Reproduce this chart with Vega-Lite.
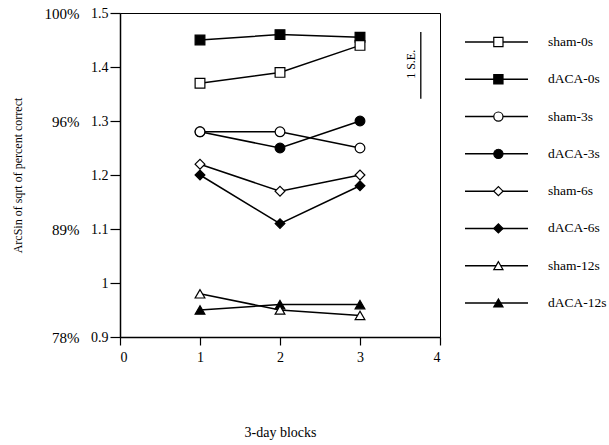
{
  "$schema": "https://vega.github.io/schema/vega-lite/v6.json",
  "padding": {"left": 10, "top": 5, "right": 5, "bottom": 5},
  "background": "white",
  "config": {
    "font": "Liberation Serif",
    "view": {"stroke": "black", "strokeWidth": 1},
    "axis": {
      "labelFont": "Liberation Serif", "titleFont": "Liberation Serif",
      "labelFontSize": 14, "titleFontSize": 12, "titleFontWeight": "normal",
      "labelColor": "black", "titleColor": "black",
      "domainColor": "black", "tickColor": "black",
      "grid": false, "domainWidth": 1.5, "tickWidth": 1.2
    },
    "text": {"font": "Liberation Serif", "color": "black"}
  },
  "datasets": {
    "scores": [
      {"series": "dACA-0s", "group": "dACA", "delay": "0s", "block": 1, "value": 1.45},
      {"series": "dACA-0s", "group": "dACA", "delay": "0s", "block": 2, "value": 1.46},
      {"series": "dACA-0s", "group": "dACA", "delay": "0s", "block": 3, "value": 1.455},
      {"series": "sham-0s", "group": "sham", "delay": "0s", "block": 1, "value": 1.37},
      {"series": "sham-0s", "group": "sham", "delay": "0s", "block": 2, "value": 1.39},
      {"series": "sham-0s", "group": "sham", "delay": "0s", "block": 3, "value": 1.44},
      {"series": "dACA-3s", "group": "dACA", "delay": "3s", "block": 1, "value": 1.28},
      {"series": "dACA-3s", "group": "dACA", "delay": "3s", "block": 2, "value": 1.25},
      {"series": "dACA-3s", "group": "dACA", "delay": "3s", "block": 3, "value": 1.30},
      {"series": "sham-3s", "group": "sham", "delay": "3s", "block": 1, "value": 1.28},
      {"series": "sham-3s", "group": "sham", "delay": "3s", "block": 2, "value": 1.28},
      {"series": "sham-3s", "group": "sham", "delay": "3s", "block": 3, "value": 1.25},
      {"series": "dACA-6s", "group": "dACA", "delay": "6s", "block": 1, "value": 1.20},
      {"series": "dACA-6s", "group": "dACA", "delay": "6s", "block": 2, "value": 1.11},
      {"series": "dACA-6s", "group": "dACA", "delay": "6s", "block": 3, "value": 1.18},
      {"series": "sham-6s", "group": "sham", "delay": "6s", "block": 1, "value": 1.22},
      {"series": "sham-6s", "group": "sham", "delay": "6s", "block": 2, "value": 1.17},
      {"series": "sham-6s", "group": "sham", "delay": "6s", "block": 3, "value": 1.20},
      {"series": "dACA-12s", "group": "dACA", "delay": "12s", "block": 1, "value": 0.95},
      {"series": "dACA-12s", "group": "dACA", "delay": "12s", "block": 2, "value": 0.96},
      {"series": "dACA-12s", "group": "dACA", "delay": "12s", "block": 3, "value": 0.96},
      {"series": "sham-12s", "group": "sham", "delay": "12s", "block": 1, "value": 0.98},
      {"series": "sham-12s", "group": "sham", "delay": "12s", "block": 2, "value": 0.95},
      {"series": "sham-12s", "group": "sham", "delay": "12s", "block": 3, "value": 0.94}
    ]
  },
  "spacing": 22,
  "hconcat": [
    {
      "width": 320,
      "height": 324,
      "data": {"name": "scores"},
      "layer": [
        {
          "mark": {"type": "line", "color": "black", "strokeWidth": 1.5},
          "encoding": {
            "x": {"field": "block", "type": "quantitative", "scale": {"domain": [0, 4]},
                  "axis": {"values": [0, 1, 2, 3, 4], "format": "d", "tickSize": 8, "labelPadding": 5, "title": "3-day blocks", "titleFontSize": 14, "titlePadding": 61}},
            "y": {"field": "value", "type": "quantitative", "scale": {"domain": [0.9, 1.5], "zero": false},
                  "axis": {"orient": "left", "values": [0.9, 1, 1.1, 1.2, 1.3, 1.4, 1.5], "format": ".1~f", "tickSize": 10, "labelPadding": 2, "title": null}},
            "detail": {"field": "series"}
          }
        },
        {
          "mark": {"type": "point", "filled": true, "stroke": "black", "strokeWidth": 1.2, "size": 95, "opacity": 1},
          "encoding": {
            "x": {"field": "block", "type": "quantitative", "axis": null},
            "y": {"field": "value", "type": "quantitative", "axis": null},
            "shape": {"field": "delay", "type": "nominal", "scale": {"domain": ["0s", "3s", "6s", "12s"], "range": ["square", "circle", "diamond", "triangle-up"]}, "legend": null},
            "fill": {"field": "group", "type": "nominal", "scale": {"domain": ["sham", "dACA"], "range": ["white", "black"]}, "legend": null}
          }
        },
        {
          "mark": {"type": "point", "opacity": 0},
          "encoding": {
            "x": {"field": "block", "type": "quantitative", "axis": null},
            "y": {"field": "value", "type": "quantitative",
                  "axis": {"orient": "left", "values": [0.9, 1.1, 1.3, 1.5], "labelExpr": "format(sin(datum.value), '.0%')", "labelFontSize": 15, "ticks": false, "domain": false, "offset": 39, "labelPadding": 2, "title": "ArcSin of sqrt of percent correct", "titlePadding": 20}}
          }
        },
        {
          "data": {"values": [{}]},
          "mark": {"type": "rule", "color": "black", "strokeWidth": 1.3},
          "encoding": {
            "x": {"datum": 3.76, "type": "quantitative", "axis": null},
            "y": {"datum": 1.465, "type": "quantitative", "axis": null},
            "y2": {"datum": 1.341}
          }
        },
        {
          "data": {"values": [{"label": "1 S.E."}]},
          "mark": {"type": "text", "angle": 270, "fontSize": 12},
          "encoding": {
            "x": {"datum": 3.64, "type": "quantitative", "axis": null},
            "y": {"datum": 1.405, "type": "quantitative", "axis": null},
            "text": {"field": "label"}
          }
        }
      ],
      "resolve": {"axis": {"x": "independent", "y": "independent"}}
    },
    {
      "width": 63,
      "height": 319,
      "view": {"stroke": null},
      "data": {"name": "scores"},
      "transform": [{"filter": "datum.block == 1"}],
      "encoding": {
        "y": {"field": "series", "type": "nominal",
              "scale": {"type": "point", "padding": 0.78, "domain": ["sham-0s", "dACA-0s", "sham-3s", "dACA-3s", "sham-6s", "dACA-6s", "sham-12s", "dACA-12s"]},
              "axis": null}
      },
      "layer": [
        {
          "mark": {"type": "rule", "color": "black", "strokeWidth": 1.5},
          "encoding": {
            "x": {"datum": 0, "type": "quantitative", "scale": {"domain": [0, 1]}, "axis": null},
            "x2": {"datum": 1}
          }
        },
        {
          "mark": {"type": "point", "filled": true, "stroke": "black", "strokeWidth": 1.2, "size": 85, "opacity": 1},
          "encoding": {
            "x": {"datum": 0.53, "type": "quantitative", "axis": null},
            "shape": {"field": "delay", "type": "nominal", "scale": {"domain": ["0s", "3s", "6s", "12s"], "range": ["square", "circle", "diamond", "triangle-up"]}, "legend": null},
            "fill": {"field": "group", "type": "nominal", "scale": {"domain": ["sham", "dACA"], "range": ["white", "black"]}, "legend": null}
          }
        },
        {
          "mark": {"type": "text", "align": "left", "dx": 20, "fontSize": 13.5},
          "encoding": {
            "x": {"datum": 1, "type": "quantitative", "axis": null},
            "text": {"field": "series"}
          }
        }
      ]
    }
  ]
}
